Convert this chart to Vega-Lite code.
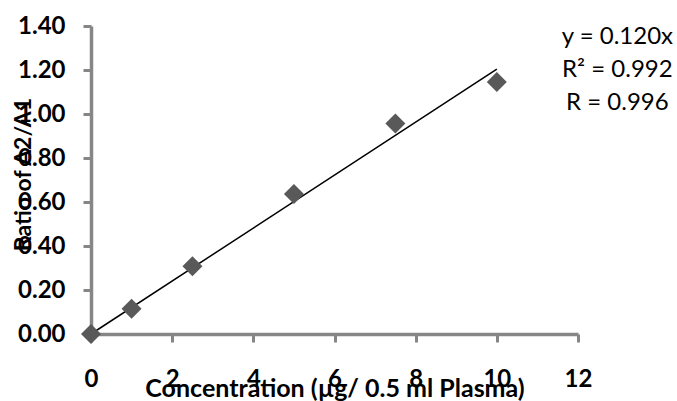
{
  "$schema": "https://vega.github.io/schema/vega-lite/v6.json",
  "width": 487,
  "height": 308,
  "autosize": {"type": "none"},
  "padding": {"left": 91, "top": 26, "right": 99, "bottom": 67},
  "background": "white",
  "config": {
    "view": {"stroke": null},
    "font": "Lato",
    "axis": {"grid": false}
  },
  "datasets": {
    "points": [
      {"conc": 0, "ratio": 0.0},
      {"conc": 1, "ratio": 0.115},
      {"conc": 2.5, "ratio": 0.308},
      {"conc": 5, "ratio": 0.636},
      {"conc": 7.5, "ratio": 0.957},
      {"conc": 10, "ratio": 1.146}
    ],
    "fit": [
      {"conc": 0, "ratio": 0.0},
      {"conc": 10, "ratio": 1.204}
    ],
    "notes": [
      {"conc": 12.97, "ratio": 1.348, "label": "y = 0.120x"},
      {"conc": 12.97, "ratio": 1.198, "label": "R² = 0.992"},
      {"conc": 12.97, "ratio": 1.048, "label": "R = 0.996"}
    ]
  },
  "layer": [
    {
      "data": {"name": "fit"},
      "mark": {"type": "line", "color": "black", "strokeWidth": 1.5, "clip": false},
      "encoding": {
        "x": {
          "field": "conc", "type": "quantitative",
          "scale": {"domain": [0, 12], "nice": false, "zero": true},
          "axis": {
            "title": "Concentration (µg/ 0.5 ml Plasma)",
            "values": [0, 2, 4, 6, 8, 10, 12],
            "format": "d",
            "domainColor": "#868686", "domainWidth": 3.5,
            "tickColor": "#868686", "tickWidth": 3, "tickSize": 8,
            "labelFont": "Lato", "labelFontWeight": "bold", "labelFontSize": 24, "labelColor": "black",
            "labelPadding": 25,
            "labelFlush": false,
            "titleFont": "Lato", "titleFontWeight": "bold", "titleFontSize": 25, "titleColor": "black",
            "titleBaseline": "alphabetic", "titleY": 62
          }
        },
        "y": {
          "field": "ratio", "type": "quantitative",
          "scale": {"domain": [0, 1.4], "nice": false},
          "axis": {
            "title": "Ratio of A2/A1",
            "values": [0, 0.2, 0.4, 0.6, 0.8, 1.0, 1.2, 1.4],
            "format": ".2f",
            "domainColor": "#868686", "domainWidth": 3.5,
            "tickColor": "#868686", "tickWidth": 3, "tickSize": 8,
            "labelFont": "Lato", "labelFontWeight": "bold", "labelFontSize": 24, "labelColor": "black",
            "labelPadding": 18,
            "labelFlush": false,
            "titleFont": "Lato", "titleFontWeight": "bold", "titleFontSize": 23, "titleColor": "black",
            "titleAngle": -90, "titleBaseline": "middle", "titleAlign": "center",
            "titleX": -68, "titleY": 148
          }
        }
      }
    },
    {
      "data": {"name": "points"},
      "mark": {"type": "point", "shape": "diamond", "filled": true, "size": 400, "color": "#595959", "opacity": 1, "clip": false},
      "encoding": {
        "x": {"field": "conc", "type": "quantitative"},
        "y": {"field": "ratio", "type": "quantitative"}
      }
    },
    {
      "data": {"name": "notes"},
      "mark": {"type": "text", "font": "Lato", "fontSize": 24, "color": "black", "align": "center", "baseline": "middle", "clip": false},
      "encoding": {
        "x": {"field": "conc", "type": "quantitative"},
        "y": {"field": "ratio", "type": "quantitative"},
        "text": {"field": "label"}
      }
    }
  ]
}
